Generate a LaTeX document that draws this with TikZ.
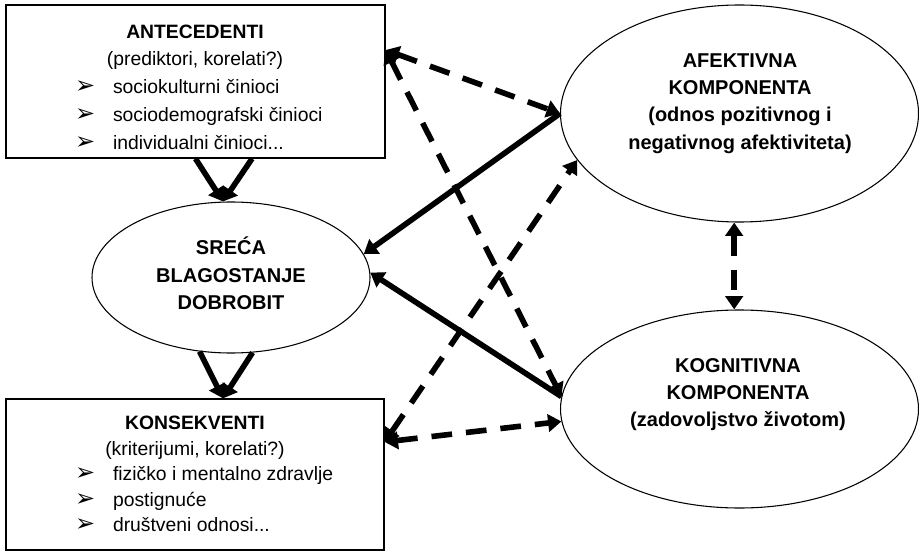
\documentclass[tikz,border=0pt]{standalone}
\usepackage{fontspec}
\setmainfont{Liberation Sans}
\newfontfamily\bulfont{DejaVu Sans}
\usetikzlibrary{arrows.meta,shapes.geometric}
\newcommand{\bulitem}[1]{\makebox[180pt][l]{\makebox[28.5pt][l]{\bulfont\fontsize{18pt}{14pt}\selectfont\char"27A2}#1}}
\begin{document}
\begin{tikzpicture}[
		x = 0.75pt, y = -0.75pt,
		infobox/.style = {draw, line width = 1pt, shape = rectangle, inner sep = 0pt},
		comp/.style = {draw, line width = 0.8pt, shape = ellipse, inner sep = 0pt},
		boxtext/.style = {align = center, inner sep = 0pt},
		comptext/.style = {align = center, inner sep = 0pt, font = \fontsize{15pt}{20.5pt}\selectfont\bfseries},
		solidarrow/.style = {line width = 4.2pt, -{Triangle[width = 13pt, length = 10pt]}},
		dasharrow/.style = {line width = 4.2pt, dash pattern = on 15.5pt off 10.5pt, {Triangle[width = 13pt, length = 10pt]}-{Triangle[width = 13pt, length = 10pt]}}
	]
		\useasboundingbox (0,0) rectangle (919,552);
		\node[infobox, minimum width = 284.25pt, minimum height = 114.75pt] (ante) at (195.5,81.5) {};
		\node[boxtext, font = \fontsize{14.5pt}{20.8pt}\selectfont] (antetext) at (195,87) {%
			\textbf{ANTECEDENTI}\\
			(prediktori, korelati?)\\
			\bulitem{sociokulturni činioci}\\
			\bulitem{sociodemografski činioci}\\
			\bulitem{individualni činioci...}%
		};
		\node[infobox, minimum width = 283.5pt, minimum height = 113.25pt] (kons) at (195,474.5) {};
		\node[boxtext, font = \fontsize{14.5pt}{19.1pt}\selectfont] (konstext) at (195,474) {%
			\textbf{KONSEKVENTI}\\
			(kriterijumi, korelati?)\\
			\bulitem{fizičko i mentalno zdravlje}\\
			\bulitem{postignuće}\\
			\bulitem{društveni odnosi...}%
		};
		\node[comp, minimum width = 208.5pt, minimum height = 113.25pt] (srec) at (231,277.5) {};
		\node[comptext] (srectext) at (231,273.5) {SREĆA\\BLAGOSTANJE\\DOBROBIT};
		\node[comp, minimum width = 268.5pt, minimum height = 162.75pt] (afek) at (739.5,113.5) {};
		\node[comptext] (afektext) at (740,103.5) {AFEKTIVNA\\KOMPONENTA\\(odnos pozitivnog i\\negativnog afektiviteta)};
		\node[comp, minimum width = 268.5pt, minimum height = 148.5pt] (kog) at (739.5,409) {};
		\node[comptext] (kogtext) at (738,394.5) {KOGNITIVNA\\KOMPONENTA\\(zadovoljstvo životom)};
		\draw[solidarrow] (ante.south) -- ([xshift = -6pt]srec.north);
		\draw[solidarrow] ([xshift = 42.4pt]ante.south) -- ([xshift = -6pt]srec.north);
		\draw[solidarrow] (srec.247) -- ([xshift = 21pt]kons.north);
		\draw[solidarrow] (srec.286) -- ([xshift = 21pt]kons.north);
		\draw[solidarrow] (afek.west) -- (srec.10);
		\draw[solidarrow] (kog.176) -- (srec.2);
		\draw[dasharrow] ([yshift = 23.6pt]ante.east) -- (afek.west);
		\draw[dasharrow] ([yshift = 23.6pt]ante.east) -- (kog.176);
		\draw[dasharrow] ([yshift = 24.4pt]kons.east) -- (afek.196);
		\draw[dasharrow] ([yshift = 24.4pt]kons.east) -- (kog.184);
		\draw[dasharrow] ([xshift = -4pt]afek.south) -- ([xshift = -4pt]kog.north);
	\end{tikzpicture}
\end{document}
